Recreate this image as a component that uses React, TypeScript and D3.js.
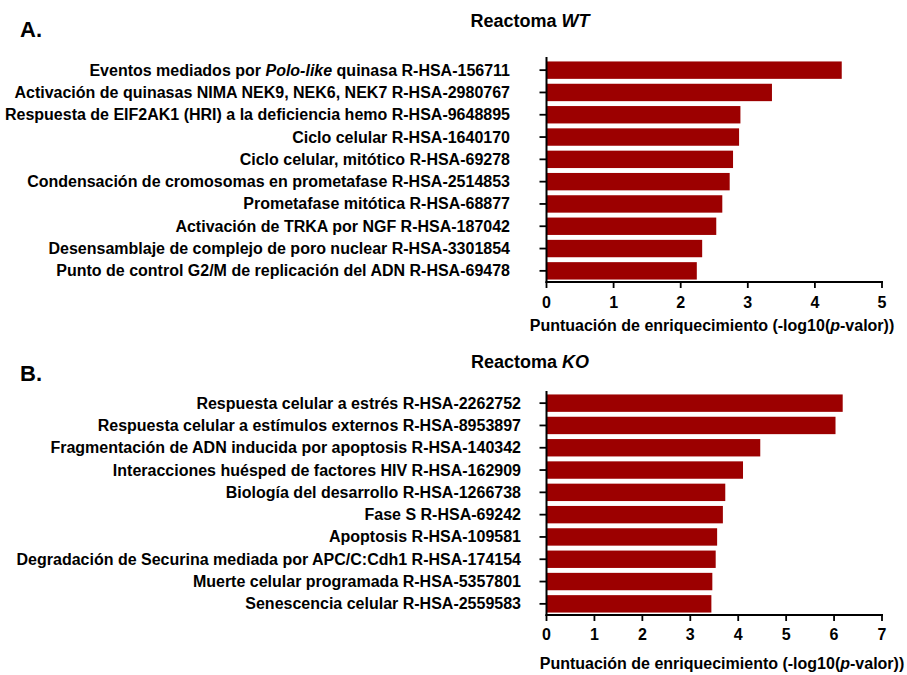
import React from "react";
import * as d3 from "d3";

const wtPathways = [
  ["Eventos mediados por ", "Polo-like", " quinasa R-HSA-156711"],
  ["Activación de quinasas NIMA NEK9, NEK6, NEK7 R-HSA-2980767"],
  ["Respuesta de EIF2AK1 (HRI) a la deficiencia hemo R-HSA-9648895"],
  ["Ciclo celular R-HSA-1640170"],
  ["Ciclo celular, mitótico R-HSA-69278"],
  ["Condensación de cromosomas en prometafase R-HSA-2514853"],
  ["Prometafase mitótica R-HSA-68877"],
  ["Activación de TRKA por NGF R-HSA-187042"],
  ["Desensamblaje de complejo de poro nuclear R-HSA-3301854"],
  ["Punto de control G2/M de replicación del ADN R-HSA-69478"],
];
const wtScores = [4.4, 3.36, 2.89, 2.87, 2.78, 2.73, 2.62, 2.53, 2.32, 2.24];
const wtTicks = [0, 1, 2, 3, 4, 5];

const koPathways = [
  ["Respuesta celular a estrés R-HSA-2262752"],
  ["Respuesta celular a estímulos externos R-HSA-8953897"],
  ["Fragmentación de ADN inducida por apoptosis R-HSA-140342"],
  ["Interacciones huésped de factores HIV R-HSA-162909"],
  ["Biología del desarrollo R-HSA-1266738"],
  ["Fase S R-HSA-69242"],
  ["Apoptosis R-HSA-109581"],
  ["Degradación de Securina mediada por APC/C:Cdh1 R-HSA-174154"],
  ["Muerte celular programada R-HSA-5357801"],
  ["Senescencia celular R-HSA-2559583"],
];
const koScores = [6.18, 6.03, 4.46, 4.1, 3.73, 3.68, 3.56, 3.53, 3.46, 3.44];
const koTicks = [0, 1, 2, 3, 4, 5, 6, 7];

const FONT = "'Liberation Sans', Arial, Helvetica, sans-serif";
const BAR = "#9c0000";

type PanelProps = {
  letter: string;
  subject: string;
  pathways: string[][];
  scores: number[];
  ticks: number[];
  top: number;
  bandTop: number;
  bandBottom: number;
  labelRight: number;
  letterY: number;
  titleY: number;
  tickLabelY: number;
  axisTitleY: number;
  axisTitleX: number;
};

function Panel(p: PanelProps) {
  const x0 = 546.5;
  const x1 = 882;
  const x = d3
    .scaleLinear()
    .domain([0, p.ticks[p.ticks.length - 1]])
    .range([x0, x1]);
  const keys = p.pathways.map((_, i) => String(i));
  const y = d3
    .scaleBand<string>()
    .domain(keys)
    .range([p.bandTop, p.bandBottom])
    .paddingInner(0.22)
    .paddingOuter(0.11);
  const axisY = p.bandBottom;
  return (
    <g fontFamily={FONT} fontWeight="bold" fill="#000">
      <text x={20} y={p.letterY} fontSize={22}>
        {p.letter}
      </text>
      <text x={530} y={p.titleY} fontSize={18} textAnchor="middle">
        Reactoma <tspan fontStyle="italic">{p.subject}</tspan>
      </text>
      {p.scores.map((v, i) => (
        <rect
          key={i}
          x={x(0)}
          y={y(String(i))!}
          width={x(v) - x(0)}
          height={y.bandwidth()}
          fill={BAR}
        />
      ))}
      {p.pathways.map((parts, i) => {
        const cy = y(String(i))! + y.bandwidth() / 2;
        return (
          <g key={i}>
            <line x1={x0 - 7} x2={x0} y1={cy} y2={cy} stroke="#000" strokeWidth={1.8} />
            <text x={p.labelRight} y={cy + 5.5} fontSize={16} textAnchor="end">
              {parts.map((s, j) => (
                <tspan key={j} fontStyle={parts.length === 3 && j === 1 ? "italic" : "normal"}>
                  {s}
                </tspan>
              ))}
            </text>
          </g>
        );
      })}
      <line x1={x0} x2={x0} y1={p.top} y2={axisY + 1} stroke="#000" strokeWidth={2} />
      <line x1={x0 - 1} x2={x1 + 1} y1={axisY} y2={axisY} stroke="#000" strokeWidth={2} />
      {p.ticks.map((t) => (
        <g key={t}>
          <line x1={x(t)} x2={x(t)} y1={axisY} y2={axisY + 6} stroke="#000" strokeWidth={1.8} />
          <text x={x(t)} y={p.tickLabelY} fontSize={16} textAnchor="middle">
            {t}
          </text>
        </g>
      ))}
      <text x={p.axisTitleX} y={p.axisTitleY} fontSize={16} textAnchor="middle">
        Puntuación de enriquecimiento (-log10(<tspan fontStyle="italic">p</tspan>-valor))
      </text>
    </g>
  );
}

export default function App() {
  return (
    <svg width={907} height={675} style={{ display: "block", position: "absolute", left: 0, top: 0 }}>
      <rect width={907} height={675} fill="#fff" />
      <Panel
        letter="A."
        subject="WT"
        pathways={wtPathways}
        scores={wtScores}
        ticks={wtTicks}
        top={57}
        bandTop={59}
        bandBottom={282}
        labelRight={510}
        letterY={37}
        titleY={26.5}
        tickLabelY={307.5}
        axisTitleY={331}
        axisTitleX={712}
      />
      <Panel
        letter="B."
        subject="KO"
        pathways={koPathways}
        scores={koScores}
        ticks={koTicks}
        top={391}
        bandTop={392}
        bandBottom={615}
        labelRight={521}
        letterY={381}
        titleY={368}
        tickLabelY={640}
        axisTitleY={669}
        axisTitleX={722}
      />
    </svg>
  );
}
